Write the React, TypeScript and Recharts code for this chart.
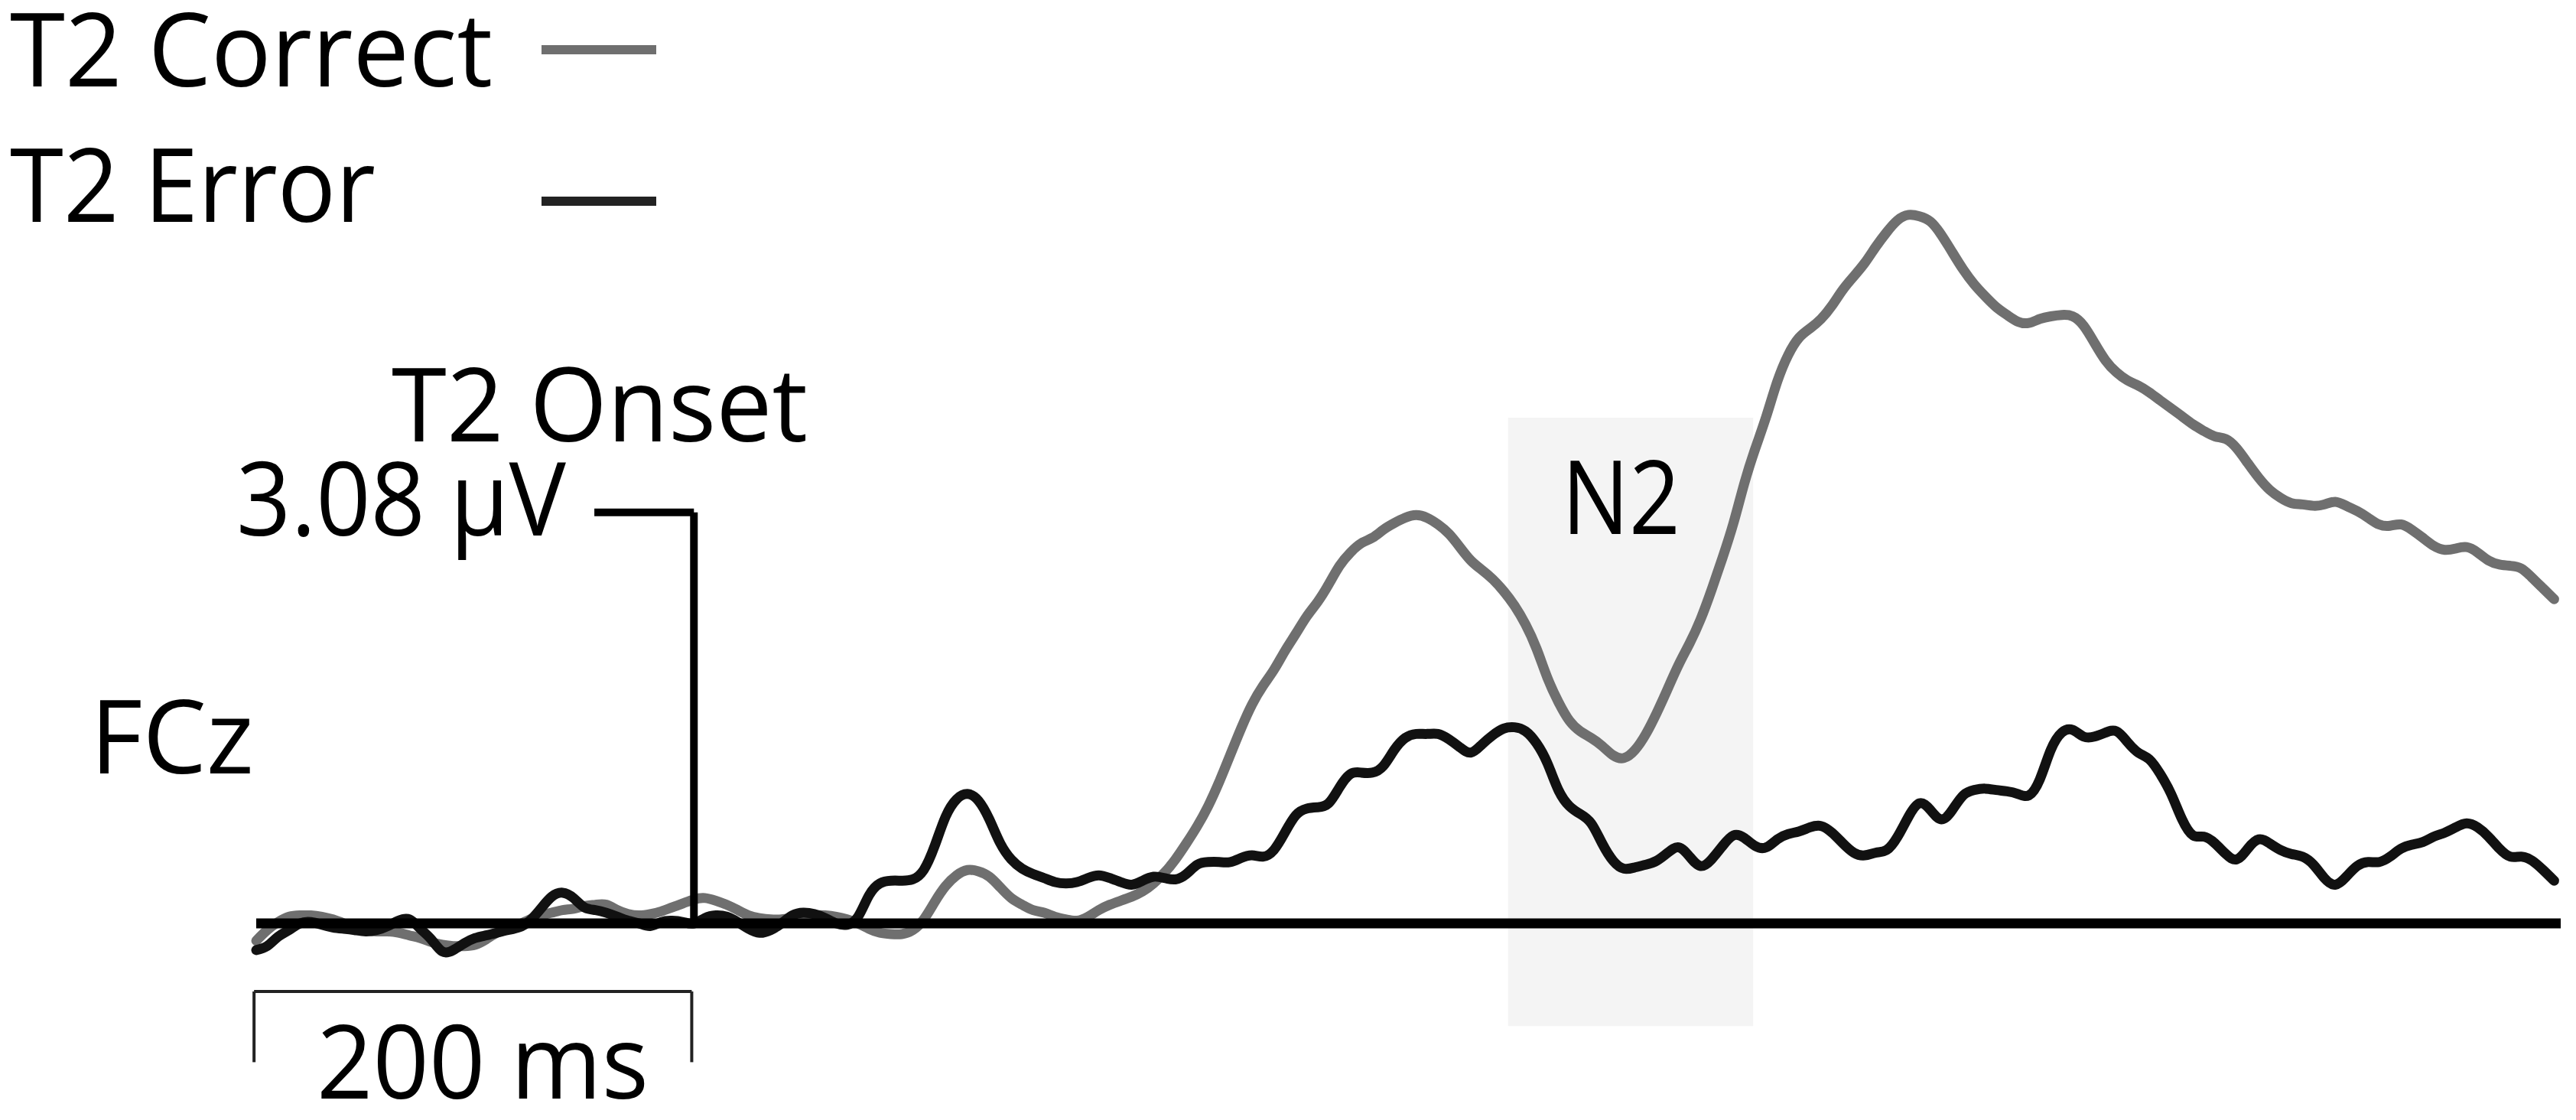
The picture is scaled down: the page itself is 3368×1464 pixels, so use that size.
import { LineChart, Line, XAxis, YAxis, ReferenceLine, ReferenceArea } from "recharts";

// ERP at FCz, T2 correct vs T2 error, time-locked to T2 onset (ms, µV)
const times = [
  -200, -195, -190, -185, -180, -175, -170, -165, -160, -155, -150, -145, -140, -135, -130, -125, -120, -115, -110, -105,
  -100, -95, -90, -85, -80, -75, -70, -65, -60, -55, -50, -45, -40, -35, -30, -25, -20, -15, -10, -5,
  0, 5, 10, 15, 20, 25, 30, 35, 40, 45, 50, 55, 60, 65, 70, 75, 80, 85, 90, 95,
  100, 105, 110, 115, 120, 125, 130, 135, 140, 145, 150, 155, 160, 165, 170, 175, 180, 185, 190, 195,
  200, 205, 210, 215, 220, 225, 230, 235, 240, 245, 250, 255, 260, 265, 270, 275, 280, 285, 290, 295,
  300, 305, 310, 315, 320, 325, 330, 335, 340, 345, 350, 355, 360, 365, 370, 375, 380, 385, 390, 395,
  400, 405, 410, 415, 420, 425, 430, 435, 440, 445, 450, 455, 460, 465, 470, 475, 480, 485, 490, 495,
  500, 505, 510, 515, 520, 525, 530, 535, 540, 545, 550, 555, 560, 565, 570, 575, 580, 585, 590, 595,
  600, 605, 610, 615, 620, 625, 630, 635, 640, 645, 650, 655, 660, 665, 670, 675, 680, 685, 690, 695,
  700, 705, 710, 715, 720, 725, 730, 735, 740, 745, 750, 755, 760, 765, 770, 775, 780, 785, 790, 795,
  800, 805, 810, 815, 820, 825, 830, 835, 840, 845, 850,
];

const correctUv = [
  -0.13, -0.05, 0.01, 0.05, 0.06, 0.06, 0.05, 0.03, 0.0, -0.03, -0.05, -0.06, -0.06, -0.07, -0.09, -0.11, -0.14, -0.16, -0.17, -0.17,
  -0.16, -0.12, -0.07, -0.04, -0.01, 0.03, 0.06, 0.08, 0.1, 0.11, 0.13, 0.14, 0.14, 0.1, 0.07, 0.06, 0.07, 0.09, 0.12, 0.15,
  0.18, 0.19, 0.17, 0.14, 0.1, 0.06, 0.04, 0.03, 0.03, 0.04, 0.05, 0.06, 0.06, 0.05, 0.03, 0.0, -0.04, -0.07, -0.08, -0.08,
  -0.05, 0.03, 0.16, 0.28, 0.36, 0.4, 0.39, 0.35, 0.27, 0.19, 0.14, 0.1, 0.08, 0.05, 0.03, 0.02, 0.05, 0.1, 0.14, 0.17,
  0.2, 0.24, 0.3, 0.38, 0.48, 0.6, 0.73, 0.88, 1.06, 1.26, 1.46, 1.64, 1.78, 1.9, 2.04, 2.17, 2.3, 2.41, 2.54, 2.68,
  2.78, 2.85, 2.89, 2.95, 3.0, 3.04, 3.06, 3.04, 2.99, 2.92, 2.82, 2.72, 2.65, 2.58, 2.49, 2.38, 2.24, 2.06, 1.84, 1.66,
  1.52, 1.44, 1.39, 1.33, 1.26, 1.24, 1.3, 1.42, 1.58, 1.76, 1.94, 2.1, 2.28, 2.5, 2.74, 3.0, 3.3, 3.56, 3.8, 4.06,
  4.26, 4.39, 4.46, 4.53, 4.63, 4.75, 4.85, 4.95, 5.07, 5.18, 5.27, 5.31, 5.3, 5.26, 5.16, 5.03, 4.9, 4.79, 4.7, 4.62,
  4.56, 4.51, 4.5, 4.53, 4.55, 4.56, 4.55, 4.48, 4.35, 4.22, 4.13, 4.07, 4.03, 3.98, 3.92, 3.86, 3.8, 3.74, 3.69, 3.65,
  3.63, 3.56, 3.45, 3.34, 3.25, 3.19, 3.15, 3.14, 3.13, 3.14, 3.16, 3.13, 3.09, 3.04, 2.99, 2.98, 2.99, 2.95, 2.89, 2.83,
  2.8, 2.81, 2.82, 2.78, 2.72, 2.69, 2.68, 2.66, 2.59, 2.51, 2.43,
];

const errorUv = [
  -0.2, -0.17, -0.1, -0.05, 0.0, 0.01, -0.01, -0.03, -0.04, -0.05, -0.06, -0.05, -0.02, 0.02, 0.03, -0.04, -0.12, -0.21, -0.2, -0.15,
  -0.11, -0.09, -0.07, -0.05, -0.03, 0.02, 0.11, 0.2, 0.23, 0.19, 0.12, 0.1, 0.08, 0.05, 0.02, 0.0, -0.02, 0.01, 0.02, 0.01,
  0.0, 0.04, 0.06, 0.05, 0.01, -0.04, -0.07, -0.05, 0.0, 0.06, 0.08, 0.07, 0.04, 0.0, -0.01, 0.05, 0.21, 0.3, 0.32, 0.32,
  0.33, 0.4, 0.58, 0.8, 0.93, 0.97, 0.92, 0.78, 0.6, 0.48, 0.41, 0.37, 0.34, 0.31, 0.3, 0.31, 0.34, 0.36, 0.34, 0.31,
  0.29, 0.32, 0.35, 0.34, 0.33, 0.37, 0.44, 0.46, 0.46, 0.46, 0.49, 0.51, 0.5, 0.55, 0.68, 0.81, 0.86, 0.87, 0.9, 1.02,
  1.12, 1.13, 1.13, 1.18, 1.3, 1.39, 1.42, 1.42, 1.42, 1.38, 1.32, 1.28, 1.34, 1.41, 1.46, 1.47, 1.44, 1.35, 1.2, 1.0,
  0.88, 0.82, 0.75, 0.6, 0.47, 0.41, 0.42, 0.44, 0.47, 0.53, 0.57, 0.5, 0.43, 0.48, 0.58, 0.66, 0.64, 0.58, 0.57, 0.63,
  0.67, 0.69, 0.72, 0.73, 0.68, 0.6, 0.53, 0.51, 0.53, 0.55, 0.65, 0.8, 0.9, 0.85, 0.78, 0.85, 0.96, 1.0, 1.01, 1.0,
  0.99, 0.97, 0.96, 1.08, 1.3, 1.43, 1.45, 1.4, 1.4, 1.43, 1.44, 1.36, 1.28, 1.23, 1.12, 0.97, 0.78, 0.66, 0.65, 0.6,
  0.52, 0.48, 0.56, 0.63, 0.6, 0.55, 0.52, 0.5, 0.44, 0.34, 0.29, 0.35, 0.43, 0.46, 0.46, 0.5, 0.56, 0.59, 0.61, 0.65,
  0.68, 0.72, 0.75, 0.72, 0.65, 0.56, 0.5, 0.5, 0.47, 0.4, 0.32,
];

const N2_WINDOW_MS = [372, 484];
const SCALE_UV = 3.08;
const SCALE_MS = 200;

const data = times.map((t, i) => ({ t, correct: correctUv[i], error: errorUv[i] }));

const W = 3368;
const H = 1464;
const FONT = "'Open Sans', 'Noto Sans', sans-serif";
const GRAY = "#6f6f6f";
const DARK = "#111";

function Label({ x, y, w, children }: { x: number; y: number; w: number; children: string }) {
  return (
    <text x={x} y={y} fontSize={134} fontFamily={FONT} fill="#000" textLength={w} lengthAdjust="spacingAndGlyphs">
      {children}
    </text>
  );
}

export default function App() {
  return (
    <div style={{ position: "relative", width: W, height: H, background: "#fff" }}>
      <style>{"body{margin:0}"}</style>
      <LineChart width={W} height={H} data={data} margin={{ top: 125.7, right: 20, bottom: 12.8, left: 320.7 }}>
        <XAxis type="number" dataKey="t" domain={[-205, 853]} hide allowDataOverflow />
        <YAxis type="number" domain={[-1.4, 6.2]} hide allowDataOverflow />
        <ReferenceArea
          x1={N2_WINDOW_MS[0]}
          x2={N2_WINDOW_MS[1]}
          y1={-0.77}
          y2={3.79}
          fill="#f4f4f4"
          fillOpacity={1}
          stroke="none"
        />
        <Line
          type="natural"
          dataKey="correct"
          stroke={GRAY}
          strokeWidth={13}
          dot={false}
          strokeLinejoin="round"
          strokeLinecap="round"
          isAnimationActive={false}
        />
        <Line
          type="natural"
          dataKey="error"
          stroke={DARK}
          strokeWidth={13}
          dot={false}
          strokeLinejoin="round"
          strokeLinecap="round"
          isAnimationActive={false}
        />
        {/* zero line */}
        <ReferenceLine segment={[{ x: -200, y: 0 }, { x: 853, y: 0 }]} stroke="#000" strokeWidth={13} />
        {/* onset marker with 3.08 µV calibration */}
        <ReferenceLine segment={[{ x: 0, y: 0 }, { x: 0, y: SCALE_UV }]} stroke="#000" strokeWidth={10} />
        <ReferenceLine segment={[{ x: -45.5, y: SCALE_UV }, { x: 0, y: SCALE_UV }]} stroke="#000" strokeWidth={10} />
        {/* 200 ms bracket */}
        <ReferenceLine segment={[{ x: -201, y: -0.51 }, { x: -201 + SCALE_MS, y: -0.51 }]} stroke="#222" strokeWidth={4} />
        <ReferenceLine segment={[{ x: -201, y: -0.51 }, { x: -201, y: -1.04 }]} stroke="#222" strokeWidth={4} />
        <ReferenceLine
          segment={[{ x: -201 + SCALE_MS, y: -0.51 }, { x: -201 + SCALE_MS, y: -1.04 }]}
          stroke="#222"
          strokeWidth={4}
        />
      </LineChart>
      <svg
        width={W}
        height={H}
        style={{ position: "absolute", left: 0, top: 0, pointerEvents: "none" }}
      >
        <Label x={13} y={113} w={631}>T2 Correct</Label>
        <Label x={13} y={290} w={478}>T2 Error</Label>
        <line x1={708} x2={858} y1={65} y2={65} stroke={GRAY} strokeWidth={12} />
        <line x1={708} x2={858} y1={263} y2={263} stroke="#222" strokeWidth={12} />
        <Label x={512} y={577} w={544}>T2 Onset</Label>
        <Label x={309} y={700} w={431}>3.08 µV</Label>
        <Label x={118} y={1011} w={214}>FCz</Label>
        <Label x={2042} y={698} w={155}>N2</Label>
        <Label x={414} y={1436} w={434}>200 ms</Label>
      </svg>
    </div>
  );
}
